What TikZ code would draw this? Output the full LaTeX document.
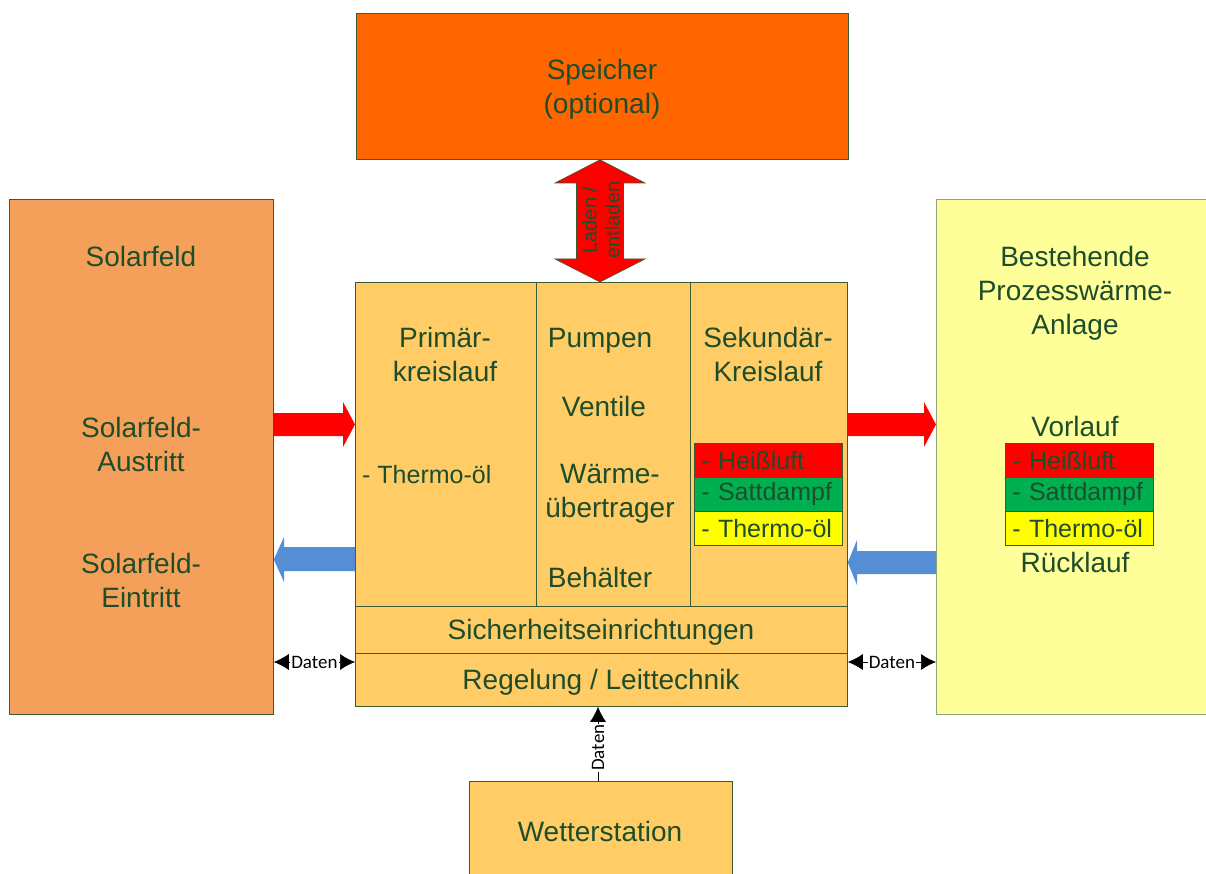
\documentclass[tikz,border=0pt]{standalone}
\usepackage{fontspec}
\setmainfont{Liberation Sans}
\newfontfamily\calibri{Carlito}
\usetikzlibrary{arrows.meta,calc}
\definecolor{txt}{HTML}{1E4D2B}
\definecolor{edge}{HTML}{3B5B30}
\definecolor{edgelight}{HTML}{8FA47A}
\definecolor{speicherfill}{HTML}{FF6600}
\definecolor{solarfill}{HTML}{F5A05A}
\definecolor{corefill}{HTML}{FFCC66}
\definecolor{plantfill}{HTML}{FFFF99}
\definecolor{hotred}{HTML}{FF0000}
\definecolor{steam}{HTML}{00B050}
\definecolor{oil}{HTML}{FFFF00}
\definecolor{retblue}{HTML}{558ED5}
\begin{document}
\begin{tikzpicture}[x=1pt,y=-1pt,
  box/.style={draw=edge, line width=0.8pt, anchor=north west, inner sep=0pt},
  lbl/.style={text=txt, font=\fontsize{28}{34}\selectfont, align=center, inner sep=0pt},
  small/.style={text=txt, font=\fontsize{25}{30}\selectfont, inner sep=0pt},
  row/.style={box, minimum width=148pt, minimum height=34pt, text width=134pt,
    inner xsep=7pt, align=left, text=txt, font=\fontsize{25}{30}\selectfont},
  daten/.style={font=\calibri\fontsize{19}{21}\selectfont, fill=white, inner sep=1pt},
  link/.style={draw=black, line width=0.6pt, -{Latex[length=15pt,width=16pt]}},
  dlink/.style={draw=black, line width=0.6pt, {Latex[length=15pt,width=16pt]}-{Latex[length=15pt,width=16pt]}},
]
\clip (0,0) rectangle (1206,874);
\fill[white] (0,0) rectangle (1206,874);

% main blocks
\node[box, fill=speicherfill, minimum width=492pt, minimum height=146pt] (speicher) at (356,13) {};
\node[box, fill=solarfill, minimum width=264pt, minimum height=515pt] (solar) at (9,199) {};
\node[box, fill=corefill, minimum width=492pt, minimum height=424pt] (core) at (355,282) {};
\node[box, draw=edgelight, fill=plantfill, minimum width=290pt, minimum height=515pt] (plant) at (936,199) {};
\node[box, fill=corefill, minimum width=263pt, minimum height=110pt] (wetter) at (469,781) {};

% subdivisions of the central block
\draw[edge, line width=0.8pt] (536,282) -- (536,606);
\draw[edge, line width=0.8pt] (690,282) -- (690,606);
\draw[edge, line width=0.8pt] (355,606) -- (847,606);
\draw[edge, line width=0.8pt] (355,653) -- (847,653);

% labels
\node[lbl] (tspeicher) at (602,89) {Speicher\\(optional)};
\node[lbl] (tsolar) at (141,256) {Solarfeld};
\node[lbl] (taus) at (141,444) {Solarfeld-\\Austritt};
\node[lbl] (tein) at (141,580) {Solarfeld-\\Eintritt};
\node[lbl] (tprim) at (445,354) {Primär-\\kreislauf};
\node[small, anchor=west] (tprimoel) at (362,475) {- Thermo-öl};
\node[lbl] (tpumpen) at (600,341) {Pumpen};
\node[lbl] (tventile) at (604,406) {Ventile};
\node[lbl] (twt) at (610,494) {Wärme-\\übertrager};
\node[lbl] (tbeh) at (600,577) {Behälter};
\node[lbl] (tsek) at (768,354) {Sekundär-\\Kreislauf};
\node[lbl] (tsicher) at (601,632) {Sicherheitseinrichtungen};
\node[lbl] (tregel) at (601,682) {Regelung / Leittechnik};
\node[lbl] (tplant) at (1075,293) {Bestehende\\Prozesswärme-\\Anlage};
\node[lbl] (tvor) at (1075,426) {Vorlauf};
\node[lbl] (track) at (1075,562) {Rücklauf};
\node[lbl] (twetter) at (600,831) {Wetterstation};

% media tables
\node[row, fill=hotred] (sh) at (694,443) {- Heißluft};
\node[row, fill=steam] (ss) at (694,477) {- Sattdampf};
\node[row, fill=oil] (so) at (694,511) {- Thermo-öl};
\node[row, fill=hotred] (ph) at (1005,443) {- Heißluft};
\node[row, fill=steam] (ps) at (1005,477) {- Sattdampf};
\node[row, fill=oil] (po) at (1005,511) {- Thermo-öl};

% charging arrow
\draw[edge, line width=0.6pt, fill=hotred]
  (speicher.south -| 600,0) -- (645,183) -- (623.5,183) -- (623.5,259) -- (645,259)
  -- (core.north -| 600,0) -- (555,259) -- (576.5,259) -- (576.5,183) -- (555,183) -- cycle;
\node[text=txt, font=\fontsize{20}{23}\selectfont, rotate=90, align=center, inner sep=0pt]
  (tladen) at (601,220) {Laden /\\entladen};

% flow arrows
\fill[hotred] (solar.east |- 0,413) -- (343,413) -- (343,402) -- (core.west |- 0,424.5)
  -- (343,447) -- (343,436) -- (solar.east |- 0,436) -- cycle;
\fill[retblue] (core.west |- 0,547) -- (284,547) -- (284,537) -- (solar.east |- 0,559.5)
  -- (284,582) -- (284,571) -- (core.west |- 0,571) -- cycle;
\fill[hotred] (core.east |- 0,413) -- (924,413) -- (924,402) -- (plant.west |- 0,424.5)
  -- (924,447) -- (924,436) -- (core.east |- 0,436) -- cycle;
\fill[retblue] (plant.west |- 0,551) -- (857,551) -- (857,540) -- (core.east |- 0,562.5)
  -- (857,585) -- (857,574) -- (plant.west |- 0,574) -- cycle;

% data links
\draw[dlink] (solar.east |- 0,662) -- node[daten] {Daten} (core.west |- 0,662);
\draw[dlink] (core.east |- 0,662) -- node[daten] {Daten} (plant.west |- 0,662);
\draw[link] (wetter.north -| 598,0) -- node[daten, rotate=90, pos=0.45] {Daten} (core.south -| 598,0);
\end{tikzpicture}
\end{document}
